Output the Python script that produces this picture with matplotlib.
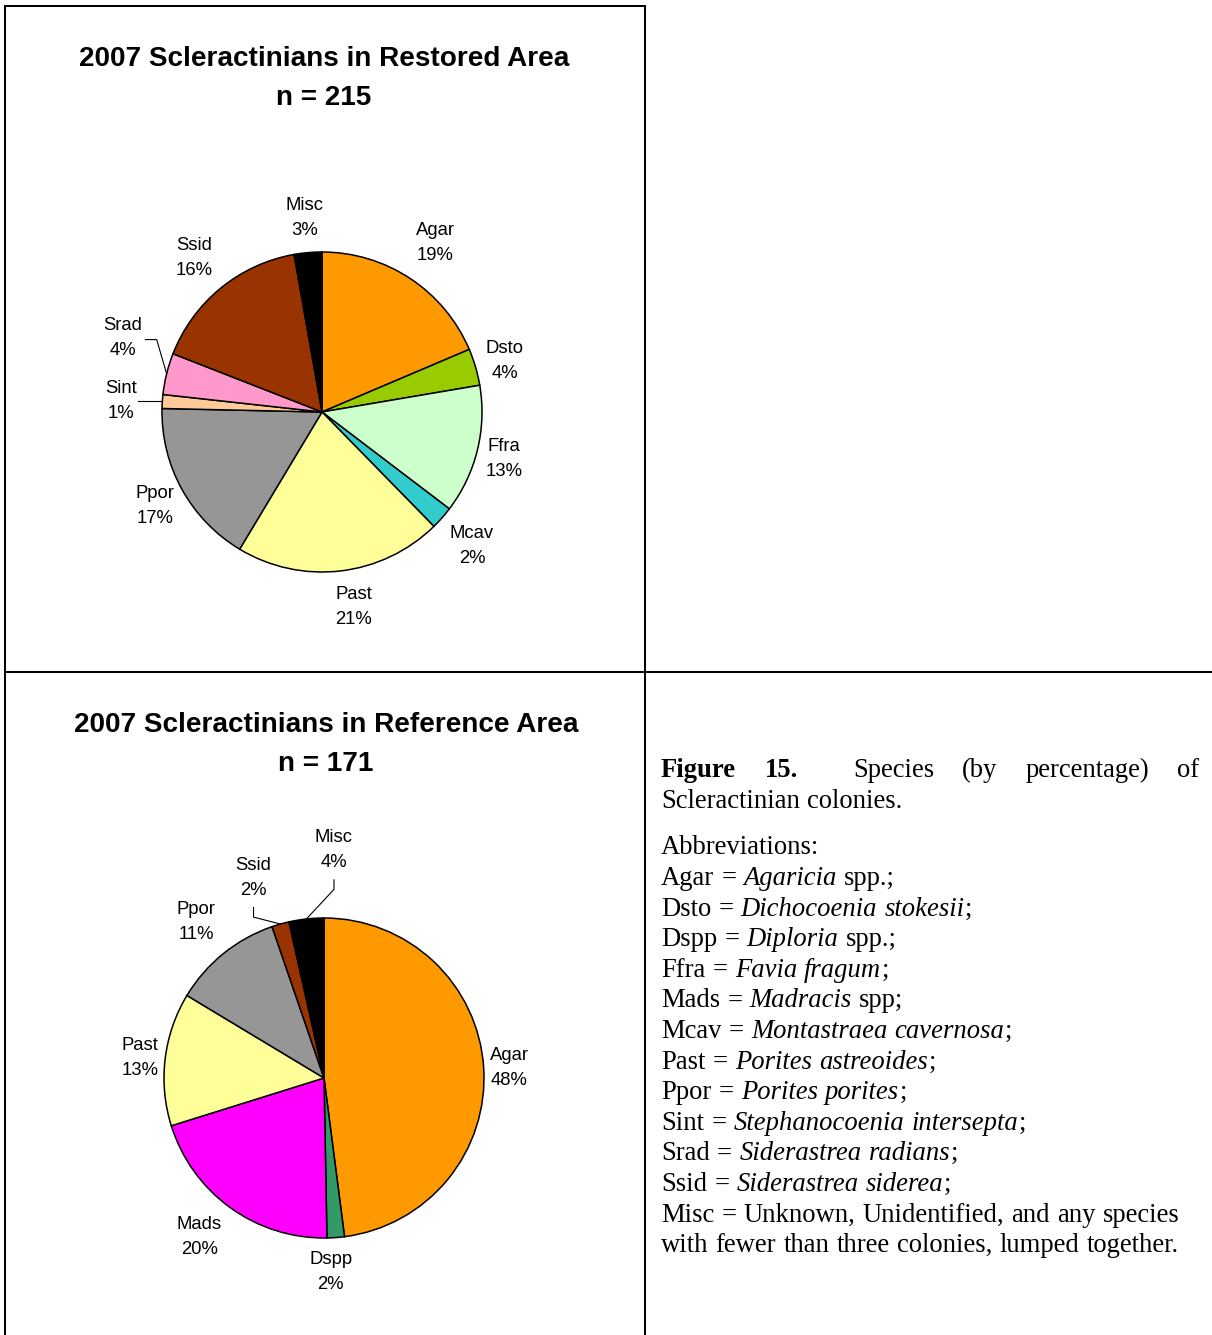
import numpy as np
import matplotlib
matplotlib.use("Agg")
import matplotlib.pyplot as plt
from matplotlib.lines import Line2D

# ---------------- data ----------------
restored_species = ["Agar", "Dsto", "Ffra", "Mcav", "Past", "Ppor", "Sint", "Srad", "Ssid", "Misc"]
restored_counts = [40, 8, 28, 5, 45, 36, 3, 9, 35, 6]
restored_n = 215
restored_title = "2007 Scleractinians in Restored Area"

reference_species = ["Agar", "Dspp", "Mads", "Past", "Ppor", "Ssid", "Misc"]
reference_counts = [82, 3, 35, 23, 19, 3, 6]
reference_n = 171
reference_title = "2007 Scleractinians in Reference Area"

species_colors = {
    "Agar": "#FF9900", "Dsto": "#99CC00", "Ffra": "#CCFFCC", "Mcav": "#33CCCC",
    "Past": "#FFFF99", "Ppor": "#969696", "Sint": "#FFCC99", "Srad": "#FF99CC",
    "Ssid": "#993300", "Misc": "#000000", "Dspp": "#339966", "Mads": "#FF00FF",
}

caption_head_bold = ["Figure", "15."]
caption_head_words = ["Species", "(by", "percentage)", "of"]
caption_line2 = "Scleractinian colonies."
abbrev_header = "Abbreviations:"
abbreviations = [
    ("Agar", "Agaricia", " spp.;"),
    ("Dsto", "Dichocoenia stokesii", ";"),
    ("Dspp", "Diploria", " spp.;"),
    ("Ffra", "Favia fragum", ";"),
    ("Mads", "Madracis", " spp;"),
    ("Mcav", "Montastraea cavernosa", ";"),
    ("Past", "Porites astreoides", ";"),
    ("Ppor", "Porites porites", ";"),
    ("Sint", "Stephanocoenia intersepta", ";"),
    ("Srad", "Siderastrea radians", ";"),
    ("Ssid", "Siderastrea siderea", ";"),
]
misc_lines = ["Misc = Unknown, Unidentified, and any species",
              "with fewer than three colonies, lumped together."]

# ---------------- style / layout ----------------
W, H, DPI = 1212, 1335, 100
SANS = "Liberation Sans"
SERIF = "Liberation Serif"
R_PX = 160.0

# label placement: (radial distance in radii, angle shift in deg clockwise)
restored_label_style = {"Agar": (1.28, 0), "Dsto": (1.19, 0), "Ffra": (1.17, 0), "Mcav": (1.25, 0),
                        "Past": (1.22, -2.7), "Ppor": (1.19, 0), "Sint": (1.26, 0), "Srad": (1.33, 7),
                        "Ssid": (1.26, 0), "Misc": (1.23, 0)}
restored_leaders = {"Sint": "horiz", "Srad": "side"}
reference_label_style = {"Agar": (1.16, 0), "Dspp": (1.20, 2.2), "Mads": (1.25, 2.7), "Past": (1.16, 0),
                         "Ppor": (1.27, 0), "Ssid": (1.34, -3.4), "Misc": (1.44, 8.8)}
reference_leaders = {"Ssid": "below", "Misc": "below"}

fig = plt.figure(figsize=(W / DPI, H / DPI), dpi=DPI)
fig.patch.set_facecolor("white")
renderer = fig.canvas.get_renderer()


def fx(x):
    return x / W


def fy(y):
    return 1 - y / H


def fig_line(x0, y0, x1, y1, lw=1.45):
    fig.add_artist(Line2D([fx(x0), fx(x1)], [fy(y0), fy(y1)], transform=fig.transFigure,
                          color="black", lw=lw, solid_capstyle="butt"))


def text_width(s, **kw):
    t = fig.text(0, 0, s, **kw)
    w = t.get_window_extent(renderer).width
    t.remove()
    return w


def fit_size(s, target, **kw):
    return 20 * target / text_width(s, fontsize=20, **kw)


# table borders
fig_line(5, 6, 645, 6)
fig_line(5, 5, 5, H)
fig_line(645, 5, 645, H)
fig_line(5, 672, W, 672)

title_fs = fit_size(restored_title, 488, family=SANS, weight="bold")
label_fs = 13.3
cap_px = 0.716 * label_fs * DPI / 72


def draw_pie(cx, cy, species, counts, n, title, tcy, label_style, leaders):
    # title
    tcap = 0.716 * title_fs * DPI / 72
    fig.text(fx(cx + 2), fy(tcy + tcap / 2), title, family=SANS, weight="bold",
             fontsize=title_fs, ha="center", va="baseline")
    fig.text(fx(cx + 2), fy(tcy + 39 + tcap / 2), f"n = {n}", family=SANS, weight="bold",
             fontsize=title_fs, ha="center", va="baseline")

    half = 240
    ax = fig.add_axes([fx(cx - half), fy(cy + half), 2 * half / W, 2 * half / H])
    wedges, _ = ax.pie(counts, colors=[species_colors[s] for s in species], startangle=90,
                       counterclock=False, radius=1,
                       wedgeprops=dict(edgecolor="black", linewidth=1.1))
    lim = half / R_PX
    ax.set_xlim(-lim, lim)
    ax.set_ylim(-lim, lim)
    ax.set_aspect("equal")
    ax.axis("off")

    dy = 12.5 / R_PX
    bo = cap_px / 2 / R_PX
    for w, sp, c in zip(wedges, species, counts):
        mid = np.deg2rad((w.theta1 + w.theta2) / 2)
        dist, shift = label_style[sp]
        ang = mid - np.deg2rad(shift)
        lx, ly = dist * np.cos(ang), dist * np.sin(ang)
        pct = int(round(100 * c / n))
        ax.text(lx, ly + dy - bo, sp, family=SANS, fontsize=label_fs, ha="center", va="baseline")
        ax.text(lx, ly - dy - bo, f"{pct}%", family=SANS, fontsize=label_fs, ha="center", va="baseline")
        kind = leaders.get(sp)
        if kind:
            sx, sy = np.cos(mid), np.sin(mid)
            if kind == "horiz":
                xs, ys = [sx, lx + 0.11], [sy, sy]
            elif kind == "side":
                xs, ys = [sx, lx + 0.21, lx + 0.14], [sy, ly - 0.02, ly - 0.02]
            else:
                xs, ys = [sx, lx, lx], [sy, ly - 0.26, ly - 0.20]
            ax.plot(xs, ys, color="black", lw=0.8, clip_on=False)


draw_pie(322, 412, restored_species, restored_counts, restored_n, restored_title, 56,
         restored_label_style, restored_leaders)
draw_pie(324, 1078, reference_species, reference_counts, reference_n, reference_title, 722,
         reference_label_style, reference_leaders)

# ---------------- caption ----------------
cap_fs = fit_size(misc_lines[1], 515, family=SERIF)
space_w = text_width("x x", family=SERIF, fontsize=cap_fs) - text_width("xx", family=SERIF, fontsize=cap_fs)


def draw_runs(x, y, runs):
    for text, style, weight in runs:
        parts = text.split(" ")
        for i, p in enumerate(parts):
            if i > 0:
                x += space_w
            if p == "":
                continue
            t = fig.text(fx(x), fy(y), p, family=SERIF, fontsize=cap_fs, style=style,
                         weight=weight, ha="left", va="baseline")
            x += t.get_window_extent(renderer).width + 0.6
    return x


X0, X1 = 661, 1199
base = 777
# justified first line
draw_runs(X0, base, [(caption_head_bold[0], "normal", "bold")])
draw_runs(765, base, [(caption_head_bold[1], "normal", "bold")])
ww = [text_width(s, family=SERIF, fontsize=cap_fs) for s in caption_head_words]
start = 853
gap = (X1 - start - sum(ww)) / (len(ww) - 1)
xx = start
for s, wv in zip(caption_head_words, ww):
    fig.text(fx(xx), fy(base), s, family=SERIF, fontsize=cap_fs, ha="left", va="baseline")
    xx += wv + gap

draw_runs(X0, 808, [(caption_line2, "normal", "normal")])
draw_runs(X0, 854, [(abbrev_header, "normal", "normal")])
pitch = 30.6
y = 885
for abbr, name, suffix in abbreviations:
    draw_runs(X0, y, [(abbr + " = ", "normal", "normal"), (name, "italic", "normal"),
                      (suffix, "normal", "normal")])
    y += pitch
for line in misc_lines:
    draw_runs(X0, y, [(line, "normal", "normal")])
    y += pitch

fig.savefig("out.png", dpi=DPI, facecolor="white")
